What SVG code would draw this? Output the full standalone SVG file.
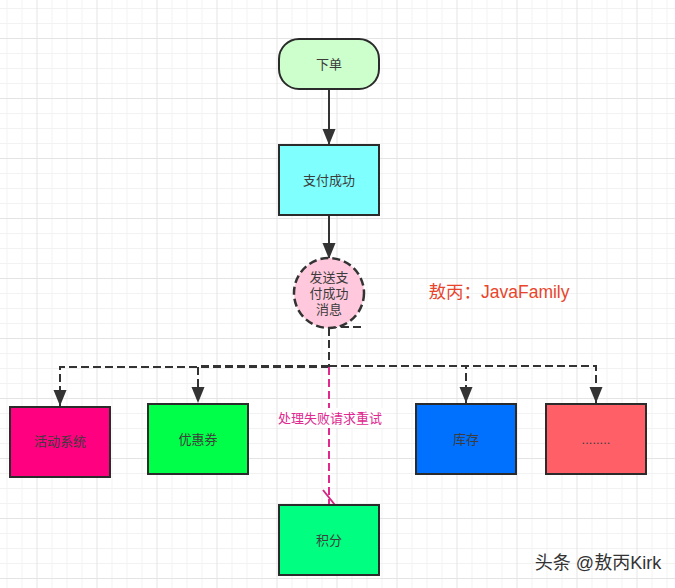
<svg xmlns="http://www.w3.org/2000/svg" width="675" height="588" viewBox="0 0 675 588">
<style>
text{font-family:"Liberation Sans","Noto Sans CJK SC",sans-serif;font-size:13px;fill:#3c3c3c;text-anchor:middle}
.n{stroke:#2b2b2b;stroke-width:2}
.c{fill:none;stroke:#333;stroke-width:2;stroke-dasharray:8 4}
.s{fill:none;stroke:#333;stroke-width:2}
</style>
<defs>
<pattern id="g" width="60" height="60" patternUnits="userSpaceOnUse" x="-23.5" y="-22">
<path d="M0 15.500H60M0 30.500H60M0 45.500H60M15.500 0V60M30.500 0V60M45.500 0V60" fill="none" stroke="#f2f2f2" stroke-width="1"/>
<path d="M0 0.500H60M0.500 0V60" fill="none" stroke="#e4e4e4" stroke-width="1"/>
</pattern>
<marker id="b" markerUnits="userSpaceOnUse" markerWidth="17" markerHeight="14" refX="16" refY="7" orient="auto"><path d="M0 0.500L0 13.500L16 7Z" fill="#333"/></marker>
</defs>
<rect width="675" height="588" fill="#fff"/>
<rect width="675" height="588" fill="url(#g)"/>
<g id="connectors">
<path class="s" d="M329 90V145" marker-end="url(#b)"/>
<path class="s" d="M329 215V259" marker-end="url(#b)"/>
<path class="c" d="M329 327H365"/>
<path class="c" d="M329 328V367"/>
<path class="c" d="M329 367H60V406" marker-end="url(#b)"/>
<path class="c" d="M329 366H198V403" marker-end="url(#b)"/>
<path class="c" d="M329 366H466V403" marker-end="url(#b)"/>
<path class="c" d="M329 366H596V403" marker-end="url(#b)"/>
<path d="M329 367V504" fill="none" stroke="#e0288f" stroke-width="2" stroke-dasharray="8 4"/>
<path d="M323 490L335 505" fill="none" stroke="#d02a80" stroke-width="2"/>
</g>
<g id="n1"><rect class="n" x="279" y="39" width="100" height="50" rx="20" fill="#ccffcc"/><text x="329" y="69">下单</text></g>
<g id="n2"><rect class="n" x="279" y="145" width="100" height="70" fill="#80ffff"/><text x="329" y="185">支付成功</text></g>
<g id="n3"><circle cx="329" cy="293" r="35" fill="#ffc8dd" stroke="#333" stroke-width="2.500" stroke-dasharray="8 4"/><text x="329" y="282">发送支</text><text x="329" y="298">付成功</text><text x="329" y="314">消息</text></g>
<g id="n4"><rect class="n" x="10" y="407" width="100" height="70" fill="#ff0080"/><text x="60" y="446">活动系统</text></g>
<g id="n5"><rect class="n" x="148" y="404" width="100" height="70" fill="#00ff48"/><text x="198" y="444">优惠券</text></g>
<g id="n6"><rect class="n" x="416" y="404" width="100" height="70" fill="#0070ff"/><text x="466" y="444">库存</text></g>
<g id="n7"><rect class="n" x="546" y="404" width="100" height="70" fill="#ff6068"/><text x="596" y="444">........</text></g>
<g id="n8"><rect class="n" x="279" y="505" width="100" height="70" fill="#00ff80"/><text x="329" y="545">积分</text></g>
<rect x="278" y="408" width="105" height="20" fill="#fff"/>
<text x="330" y="423" style="fill:#e0288f">处理失败请求重试</text>
<text x="499" y="298" style="fill:#e8452c;font-size:17.500px">敖丙：JavaFamily</text>
<text x="598" y="569" style="fill:#333;font-size:18px">头条 @敖丙Kirk</text>
</svg>
